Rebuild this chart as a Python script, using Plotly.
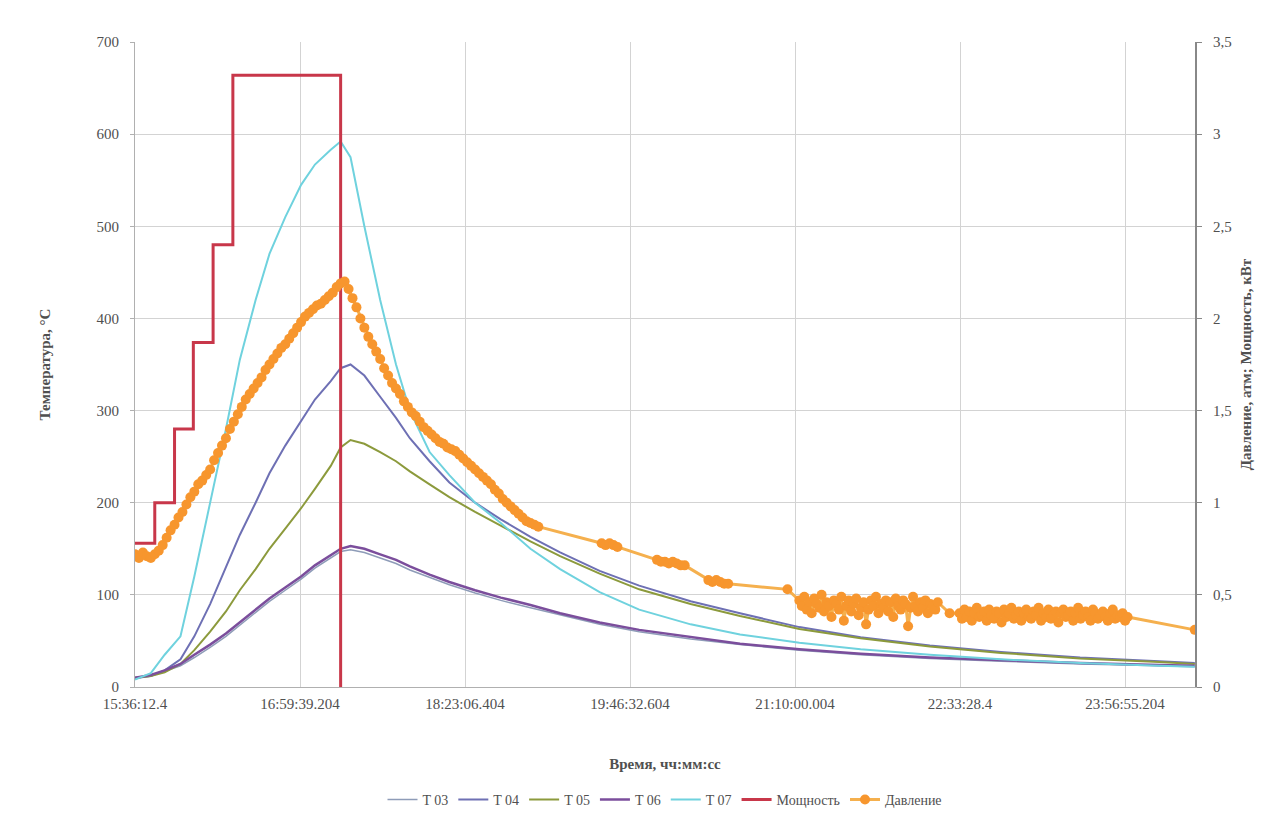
import plotly.graph_objects as go

# Time axis: minutes from the start of the run
time_labels = ["15:36:12.4", "16:59:39.204", "18:23:06.404", "19:46:32.604",
               "21:10:00.004", "22:33:28.4", "23:56:55.204"]
label_step_min = 83.45
x_end_min = 536.1

# Temperature samples (°C)
t_temp = [0, 8, 15, 23, 30, 38, 46, 53, 61, 68, 76, 84, 91, 99, 104, 109, 116, 124,
          132, 139, 149, 159, 172, 185, 200, 215, 235, 255, 281, 306, 336, 367, 402,
          438, 478, 518, 536]
T03 = [9, 12, 17, 23, 32, 43, 55, 67, 80, 93, 105, 117, 129, 140, 147, 149, 146, 140,
       134, 127, 119, 111, 102, 94, 86, 78, 68, 60, 52, 46, 40, 35, 31, 28, 25, 23, 22]
T04 = [10, 12, 18, 30, 55, 90, 130, 165, 200, 232, 262, 288, 312, 332, 346, 350, 338,
       315, 292, 270, 245, 222, 200, 182, 163, 146, 126, 110, 93, 80, 65, 54, 45, 38,
       32, 28, 26]
T05 = [10, 12, 16, 25, 40, 60, 82, 105, 128, 150, 172, 194, 215, 240, 260, 268, 264,
       255, 245, 234, 220, 206, 190, 175, 158, 142, 123, 106, 90, 77, 63, 53, 44, 37,
       31, 27, 25]
T06 = [10, 13, 18, 25, 35, 46, 58, 70, 83, 96, 108, 120, 132, 143, 150, 153, 150, 144,
       138, 131, 122, 114, 105, 97, 89, 80, 70, 62, 54, 47, 41, 36, 32, 29, 26, 24, 23]
T07 = [8, 15, 35, 55, 120, 200, 280, 355, 420, 470, 510, 545, 567, 583, 592, 575, 500,
       420, 350, 300, 255, 230, 200, 178, 150, 128, 103, 84, 68, 57, 48, 41, 35, 30,
       26, 23, 22]

# Heater power (kW), stepwise; switched off at ~104 min
t_power = [0, 10, 20, 29.5, 39.5, 49.5, 104]
power = [0.78, 1.0, 1.4, 1.87, 2.4, 3.32, 0]

# Pressure (atm)
t_press = [
    # heating
    0, 2, 4, 6, 8, 10, 12, 14, 16, 18, 20, 22, 24, 26, 28, 30, 32, 34, 36, 38, 40,
    42, 44, 46, 48, 50, 52, 54, 56, 58, 60, 62, 64, 66, 68, 70, 72, 74, 76, 78, 80,
    82, 84, 86, 88, 90, 92, 94, 96, 98, 100, 102, 104, 106,
    # cooling
    108, 110, 112, 114, 116, 118, 120, 122, 124, 126, 128, 130, 132, 134, 136, 138,
    140, 142, 144, 146, 148, 150, 152, 154, 156, 158, 160, 162, 164, 166, 168, 170,
    172, 174, 176, 178, 180, 182, 184, 186, 188, 190, 192, 194, 196, 198, 200, 202,
    204,
    236, 238, 240, 242, 244,
    264, 266, 268, 270, 272, 274, 276, 278,
    290, 292, 294, 296, 298, 300, 330,
    336, 337.25, 338.5, 339.75, 341, 342.25, 343.5, 344.75, 346, 347.25, 348.5,
    349.75, 351, 352.25, 353.5, 354.75, 356, 357.25, 358.5, 359.75, 361, 362.25,
    363.5, 364.75, 366, 367.25, 368.5, 369.75, 371, 372.25, 373.5, 374.75, 376,
    377.25, 378.5, 379.75, 381, 382.25, 383.5, 384.75, 386, 387.25, 388.5, 389.75,
    391, 392.25, 393.5, 394.75, 396, 397.25, 398.5, 399.75, 401, 402.25, 403.5,
    404.75, 406,
    412,
    417, 418.25, 419.5, 420.75, 422, 423.25, 424.5, 425.75, 427, 428.25, 429.5,
    430.75, 432, 433.25, 434.5, 435.75, 437, 438.25, 439.5, 440.75, 442, 443.25,
    444.5, 445.75, 447, 448.25, 449.5, 450.75, 452, 453.25, 454.5, 455.75, 457,
    458.25, 459.5, 460.75, 462, 463.25, 464.5, 465.75, 467, 468.25, 469.5, 470.75,
    472, 473.25, 474.5, 475.75, 477, 478.25, 479.5, 480.75, 482, 483.25, 484.5,
    485.75, 487, 488.25, 489.5, 490.75, 492, 493.25, 494.5, 495.75, 497, 498.25,
    499.5, 500.75, 502,
    536,
]
pressure = [
    0.72, 0.70, 0.73, 0.71, 0.70, 0.72, 0.74, 0.77, 0.81, 0.85, 0.88, 0.92, 0.95,
    0.99, 1.03, 1.06, 1.10, 1.12, 1.15, 1.18, 1.23, 1.27, 1.31, 1.35, 1.40, 1.44,
    1.48, 1.52, 1.56, 1.59, 1.62, 1.65, 1.68, 1.72, 1.75, 1.78, 1.81, 1.84, 1.86,
    1.89, 1.92, 1.95, 1.98, 2.01, 2.03, 2.05, 2.07, 2.08, 2.10, 2.12, 2.14, 2.17,
    2.19, 2.20,
    2.16, 2.11, 2.06, 2.00, 1.95, 1.90, 1.86, 1.82, 1.78, 1.73, 1.69, 1.65, 1.62,
    1.59, 1.55, 1.52, 1.49, 1.47, 1.44, 1.41, 1.39, 1.37, 1.35, 1.33, 1.32, 1.30,
    1.29, 1.28, 1.26, 1.24, 1.22, 1.20, 1.18, 1.16, 1.14, 1.12, 1.10, 1.07, 1.05,
    1.02, 1.00, 0.98, 0.96, 0.94, 0.92, 0.90, 0.89, 0.88, 0.87,
    0.78, 0.77, 0.78, 0.77, 0.76,
    0.69, 0.68, 0.68, 0.67, 0.68, 0.67, 0.66, 0.66,
    0.58, 0.57, 0.58, 0.57, 0.56, 0.56, 0.53,
    0.47, 0.44, 0.49, 0.42, 0.46, 0.40, 0.48, 0.45, 0.43, 0.50,
    0.41, 0.46, 0.44, 0.38, 0.47, 0.45, 0.42, 0.49, 0.36, 0.44,
    0.47, 0.41, 0.45, 0.48, 0.39, 0.43, 0.46, 0.34, 0.42, 0.47,
    0.44, 0.49, 0.40, 0.45, 0.43, 0.47, 0.41, 0.46, 0.38, 0.48,
    0.44, 0.42, 0.47, 0.45, 0.33, 0.43, 0.49, 0.44, 0.41, 0.46,
    0.43, 0.47, 0.40, 0.45, 0.44, 0.42, 0.46,
    0.40,
    0.40, 0.37, 0.42, 0.38, 0.41, 0.36, 0.40, 0.43, 0.38, 0.39,
    0.41, 0.36, 0.42, 0.39, 0.37, 0.41, 0.40, 0.35, 0.42, 0.38,
    0.40, 0.43, 0.37, 0.39, 0.41, 0.36, 0.40, 0.42, 0.38, 0.37,
    0.41, 0.39, 0.43, 0.36, 0.40, 0.38, 0.42, 0.37, 0.39, 0.41,
    0.35, 0.40, 0.42, 0.38, 0.39, 0.41, 0.36, 0.40, 0.43, 0.37,
    0.39, 0.41, 0.38, 0.36, 0.42, 0.40, 0.37, 0.39, 0.41, 0.38,
    0.36, 0.40, 0.42, 0.37, 0.39, 0.38, 0.40, 0.36, 0.38,
    0.31,
]

left_ticks = [0, 100, 200, 300, 400, 500, 600, 700]
right_ticks = [0, 0.5, 1, 1.5, 2, 2.5, 3, 3.5]
right_tick_text = ["0", "0,5", "1", "1,5", "2", "2,5", "3", "3,5"]

FONT = "Liberation Serif, Times New Roman, serif"
TXT = "#505050"
GRID = "#D3D3D3"

fig = go.Figure()

temp_series = [
    ("T 03", T03, "#8E9CB8", 1.5),
    ("T 04", T04, "#6E70B4", 2),
    ("T 05", T05, "#8C9A3C", 2),
    ("T 06", T06, "#7B4E9C", 2.5),
    ("T 07", T07, "#6FD2DE", 2),
]
for name, vals, color, w in temp_series:
    fig.add_trace(go.Scatter(x=t_temp, y=vals, name=name, mode="lines",
                             line=dict(color=color, width=w)))

fig.add_trace(go.Scatter(x=t_power, y=power, name="Мощность", mode="lines",
                         line=dict(color="#C8374A", width=3, shape="hv"),
                         yaxis="y2"))
fig.add_trace(go.Scatter(x=t_press, y=pressure, name="Давление", mode="lines+markers",
                         line=dict(color="#F5B04E", width=3),
                         marker=dict(color="#F7962E", size=10, line=dict(width=0)),
                         yaxis="y2"))

tick_pos = [i * label_step_min for i in range(len(time_labels))]

fig.update_layout(
    width=1263, height=816,
    margin=dict(l=135, r=68, t=42, b=129, autoexpand=False),
    paper_bgcolor="white", plot_bgcolor="white",
    font=dict(family=FONT, size=15, color=TXT),
    showlegend=True,
    legend=dict(orientation="h", x=0.5, xanchor="center", y=-0.175, yanchor="middle",
                font=dict(family=FONT, size=14, color=TXT), itemwidth=30,
                tracegroupgap=0),
    xaxis=dict(range=[0, x_end_min], tickvals=tick_pos, ticktext=time_labels,
               automargin=False,
               showgrid=True, gridcolor=GRID, gridwidth=1,
               showline=True, linecolor="#B0B0B0", zeroline=False, ticks="",
               ticklabelstandoff=3, tickfont=dict(size=15, color=TXT),
               title=dict(text="<b>Время, чч:мм:сс</b>", standoff=47,
                          font=dict(size=15, color=TXT))),
    yaxis=dict(range=[0, 700], tickvals=left_ticks, showgrid=True, automargin=False,
               gridcolor=GRID, gridwidth=1, showline=True, linecolor="#B0B0B0",
               zeroline=False, ticks="outside", ticklen=4, tickcolor="#B0B0B0",
               ticklabelstandoff=8, tickfont=dict(size=15, color=TXT),
               title=dict(text="<b>Температура, °С</b>", standoff=42,
                          font=dict(size=15, color=TXT))),
    yaxis2=dict(range=[0, 3.5], tickvals=right_ticks, ticktext=right_tick_text,
                overlaying="y", side="right", showgrid=False, showline=True,
                automargin=False,
                linecolor="#888888", linewidth=2, zeroline=False, ticks="outside",
                ticklen=5, tickcolor="#888888", ticklabelstandoff=8,
                tickfont=dict(size=15, color=TXT),
                title=dict(text="<b>Давление, атм; Мощность, кВт</b>", standoff=10,
                           font=dict(size=15, color=TXT))),
)

fig.write_html("out.html")
